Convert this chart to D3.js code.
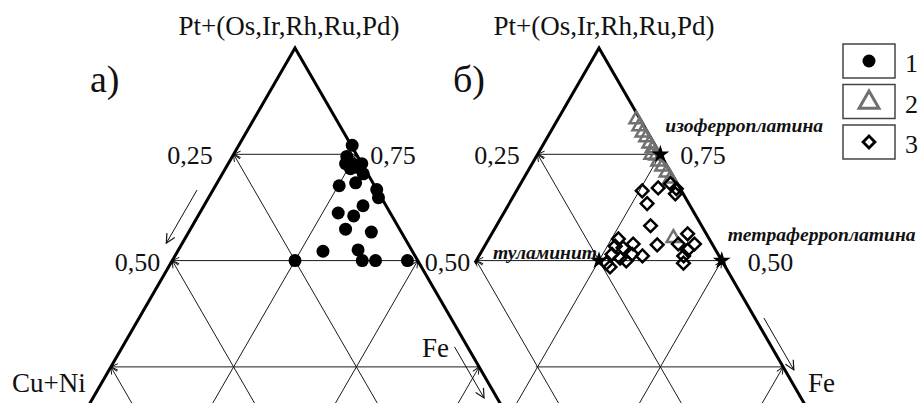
<!DOCTYPE html>
<html>
<head>
<meta charset="utf-8">
<script src="https://cdn.jsdelivr.net/npm/d3@7"></script>
<style>
  body { margin: 0; background: #fff; }
  svg { display: block; }
  text { font-family: "Liberation Serif", "Times New Roman", serif; fill: #111; }
</style>
</head>
<body>
<div id="plot"></div>
<script>
// grid ticks (fractions along each side)
var ticks = [0.25, 0.5, 0.75];

// compositions as fractions: pt = Pt+(Os,Ir,Rh,Ru,Pd), fe = Fe, Cu+Ni = 1 - pt - fe
// a) group 1 (filled circles)
var s1Pt = [0.771, 0.745, 0.728, 0.728, 0.716, 0.728, 0.719, 0.704, 0.683, 0.676, 0.667, 0.648,
            0.629, 0.612, 0.605, 0.574, 0.567, 0.522, 0.525, 0.500, 0.500, 0.500, 0.500];
var s1Fe = [0.231, 0.233, 0.239, 0.252, 0.255, 0.272, 0.268, 0.287, 0.282, 0.252, 0.333, 0.346,
            0.324, 0.282, 0.317, 0.316, 0.372, 0.296, 0.366, 0.387, 0.414, 0.479, 0.250];

// б) group 2 (grey triangles)
var s2Pt = [0.832, 0.816, 0.801, 0.790, 0.775, 0.764, 0.749, 0.747, 0.733, 0.721, 0.707, 0.693, 0.553];
var s2Fe = [0.160, 0.174, 0.188, 0.201, 0.215, 0.227, 0.232, 0.243, 0.254, 0.268, 0.284, 0.299, 0.375];

// б) group 3 (diamonds)
var s3Pt = [0.681, 0.669, 0.657, 0.664, 0.671, 0.634, 0.582, 0.537, 0.563, 0.539, 0.539, 0.525, 0.511,
            0.494, 0.551, 0.534, 0.530, 0.539, 0.515, 0.511, 0.515, 0.506, 0.494, 0.499, 0.485];
var s3Fe = [0.305, 0.323, 0.327, 0.256, 0.285, 0.281, 0.314, 0.350, 0.399, 0.392, 0.425, 0.418, 0.417,
            0.425, 0.264, 0.266, 0.284, 0.300, 0.310, 0.333, 0.269, 0.290, 0.268, 0.306, 0.280];

// reference minerals (stars)
var minNames = ["изоферроплатина", "туламинит", "тетраферроплатина"];
var minPt = [0.75, 0.5, 0.5];
var minFe = [0.25, 0.25, 0.5];

var legendLabels = ["1", "2", "3"];

// ---- layout
var width = 920, height = 403;
var apexY = 48, H = 425.2, side = H / (Math.sqrt(3) / 2);

var svg = d3.select("#plot").append("svg")
  .attr("width", width)
  .attr("height", height);

var defs = svg.append("defs");
defs.append("marker")
  .attr("id", "tip")
  .attr("markerUnits", "userSpaceOnUse")
  .attr("viewBox", "-10 -6 12 12")
  .attr("refX", 0).attr("refY", 0)
  .attr("markerWidth", 12).attr("markerHeight", 12)
  .attr("orient", "auto-start-reverse")
  .append("path")
  .attr("d", "M-7,-3.2L0,0L-7,3.2")
  .attr("fill", "none").attr("stroke", "#111").attr("stroke-width", 1);
defs.append("marker")
  .attr("id", "bigtip")
  .attr("markerUnits", "userSpaceOnUse")
  .attr("viewBox", "-12 -7 14 14")
  .attr("refX", 0).attr("refY", 0)
  .attr("markerWidth", 14).attr("markerHeight", 14)
  .attr("orient", "auto")
  .append("path")
  .attr("d", "M-9,-4.5L0,0L-9,4.5")
  .attr("fill", "none").attr("stroke", "#111").attr("stroke-width", 1.2);

// Pt fraction -> vertical position (shared by both panels)
var y = d3.scaleLinear().domain([0, 1]).range([apexY + H, apexY]);

function drawPanel(cfg) {
  // (Fe - CuNi) -> horizontal position
  var x = d3.scaleLinear().domain([-1, 1]).range([cfg.cx - side / 2, cfg.cx + side / 2]);
  var pos = function(pt, fe) { var cu = 1 - pt - fe; return [x(fe - cu), y(pt)]; };
  var g = svg.append("g");
  var frame = g.append("g");

  if (cfg.clip) {
    // the lower-left corner of this panel is cut away where it meets panel a)
    var b = pos(0.5, 0), c = pos(0.25, 0.25), d = pos(0, 0.25);
    var keep = [[b[0] - 40, -10], [b[0] - 3, b[1]], [c[0] - 1.5, c[1]], [d[0] - 1.5, d[1]],
                [width, d[1]], [width, -10]];
    defs.append("clipPath").attr("id", cfg.clip)
      .append("path").attr("d", d3.line()(keep) + "Z");
    frame.attr("clip-path", "url(#" + cfg.clip + ")");
  }

  // grid lines, each starting on the side where it is read
  var grid = [];
  ticks.forEach(function(t) {
    grid.push([pos(1 - t, 0), pos(1 - t, t)]);   // constant Pt
    grid.push([pos(1 - t, 0), pos(0, 1 - t)]);   // constant Cu+Ni
    grid.push([pos(1 - t, t), pos(0, t)]);       // constant Fe
  });
  frame.selectAll(".grid").data(grid).enter().append("path")
    .attr("class", "grid")
    .attr("d", function(d) { return d3.line()(d); })
    .attr("fill", "none")
    .attr("stroke", "#1a1a1a")
    .attr("stroke-width", 1)
    .attr("marker-start", "url(#tip)");

  // frame
  frame.append("path")
    .attr("d", d3.line()([pos(1, 0), pos(0, 0), pos(0, 1)]) + "Z")
    .attr("fill", "none")
    .attr("stroke", "#000")
    .attr("stroke-width", 3)
    .attr("stroke-linejoin", "miter");

  // side arrows
  cfg.arrows.forEach(function(a) {
    var p1 = a.side === "left" ? pos(a.from, 0) : pos(a.from, 1 - a.from);
    var p2 = a.side === "left" ? pos(a.to, 0) : pos(a.to, 1 - a.to);
    g.append("path")
      .attr("d", d3.line()([[p1[0] + a.dx, p1[1]], [p2[0] + a.dx, p2[1]]]))
      .attr("fill", "none")
      .attr("stroke", "#111")
      .attr("stroke-width", 1)
      .attr("marker-end", "url(#bigtip)");
  });

  // tick labels
  cfg.tickLabels.forEach(function(l) {
    var p = l.side === "left" ? pos(l.pt, 0) : pos(l.pt, 1 - l.pt);
    g.append("text")
      .attr("x", p[0] + l.dx)
      .attr("y", p[1] + 10)
      .attr("text-anchor", l.dx < 0 ? "end" : "start")
      .style("font-size", "26px")
      .text(l.text);
  });

  g.append("text")
    .attr("x", cfg.cx + cfg.titleDx).attr("y", 35)
    .attr("text-anchor", "middle")
    .style("font-size", "27px")
    .text("Pt+(Os,Ir,Rh,Ru,Pd)");

  g.append("text")
    .attr("x", cfg.letterX).attr("y", 92)
    .style("font-size", "38px")
    .text(cfg.letter);

  return {x: x, pos: pos, g: g};
}

var left = drawPanel({
  cx: 295, titleDx: -6, letter: "а)", letterX: 90,
  arrows: [{side: "left", from: 0.666, to: 0.541, dx: -16},
           {side: "right", from: 0.297, to: 0.177, dx: -13}],
  tickLabels: [{side: "left", pt: 0.75, text: "0,25", dx: -21},
               {side: "left", pt: 0.5, text: "0,50", dx: -12},
               {side: "right", pt: 0.75, text: "0,75", dx: 14},
               {side: "right", pt: 0.5, text: "0,50", dx: 7}]
});

var right = drawPanel({
  cx: 599, titleDx: 5, letter: "б)", letterX: 453, clip: "cutB",
  arrows: [{side: "right", from: 0.365, to: 0.243, dx: 9}],
  tickLabels: [{side: "left", pt: 0.75, text: "0,25", dx: -18},
               {side: "right", pt: 0.75, text: "0,75", dx: 20},
               {side: "right", pt: 0.5, text: "0,50", dx: 26}]
});

// corner labels
svg.append("text").attr("x", 12).attr("y", 392).style("font-size", "27px").text("Cu+Ni");
svg.append("text").attr("x", 422).attr("y", 357).style("font-size", "27px").text("Fe");
svg.append("text").attr("x", 808).attr("y", 392).style("font-size", "27px").text("Fe");

// ---- data marks
var circ = d3.range(s1Pt.length).map(function(i) { return left.pos(s1Pt[i], s1Fe[i]); });
left.g.selectAll(".s1").data(circ).enter().append("circle")
  .attr("class", "s1")
  .attr("cx", function(d) { return d[0]; })
  .attr("cy", function(d) { return d[1]; })
  .attr("r", 6.5)
  .attr("fill", "#000");

var tri = d3.range(s2Pt.length).map(function(i) { return right.pos(s2Pt[i], s2Fe[i]); });
right.g.selectAll(".s2").data(tri).enter().append("path")
  .attr("class", "s2")
  .attr("d", d3.symbol(d3.symbolTriangle, 80))
  .attr("transform", function(d) { return "translate(" + d[0] + "," + d[1] + ")"; })
  .attr("fill", "none")
  .attr("stroke", "#707070")
  .attr("stroke-width", 2.5);

var dia = d3.range(s3Pt.length).map(function(i) { return right.pos(s3Pt[i], s3Fe[i]); });
right.g.selectAll(".s3").data(dia).enter().append("path")
  .attr("class", "s3")
  .attr("d", d3.symbol(d3.symbolSquare, 80))
  .attr("transform", function(d) { return "translate(" + d[0] + "," + d[1] + ") rotate(45)"; })
  .attr("fill", "none")
  .attr("stroke", "#000")
  .attr("stroke-width", 2.5);

// minerals
var mins = d3.range(minNames.length).map(function(i) {
  return {name: minNames[i], p: right.pos(minPt[i], minFe[i])};
});
right.g.selectAll(".star").data(mins).enter().append("path")
  .attr("class", "star")
  .attr("d", d3.symbol(d3.symbolStar, 100))
  .attr("transform", function(d) { return "translate(" + d.p[0] + "," + d.p[1] + ")"; })
  .attr("fill", "#000");

var minLabelOff = [[5, -22], [-106, -2], [6, -20]];
right.g.selectAll(".minlab").data(mins).enter().append("text")
  .attr("class", "minlab")
  .attr("x", function(d, i) { return d.p[0] + minLabelOff[i][0]; })
  .attr("y", function(d, i) { return d.p[1] + minLabelOff[i][1]; })
  .style("font-size", "19.6px")
  .style("font-style", "italic")
  .style("font-weight", "bold")
  .text(function(d) { return d.name; });

// ---- legend
var leg = svg.append("g").attr("transform", "translate(843,44)");
var items = leg.selectAll(".item").data(legendLabels).enter().append("g")
  .attr("class", "item")
  .attr("transform", function(d, i) { return "translate(0," + (i * 40.5) + ")"; });
items.append("rect")
  .attr("width", 52).attr("height", 34)
  .attr("fill", "#fff").attr("stroke", "#444").attr("stroke-width", 1.5);
items.append("text")
  .attr("x", 62).attr("y", 28)
  .style("font-size", "26px")
  .text(function(d) { return d; });
items.filter(function(d, i) { return i === 0; }).append("circle")
  .attr("cx", 26).attr("cy", 17).attr("r", 6.5).attr("fill", "#000");
items.filter(function(d, i) { return i === 1; }).append("path")
  .attr("d", d3.symbol(d3.symbolTriangle, 170))
  .attr("transform", "translate(26,18)")
  .attr("fill", "none").attr("stroke", "#707070").attr("stroke-width", 3);
items.filter(function(d, i) { return i === 2; }).append("path")
  .attr("d", d3.symbol(d3.symbolSquare, 70))
  .attr("transform", "translate(26,17) rotate(45)")
  .attr("fill", "none").attr("stroke", "#000").attr("stroke-width", 2.8);
</script>
</body>
</html>
